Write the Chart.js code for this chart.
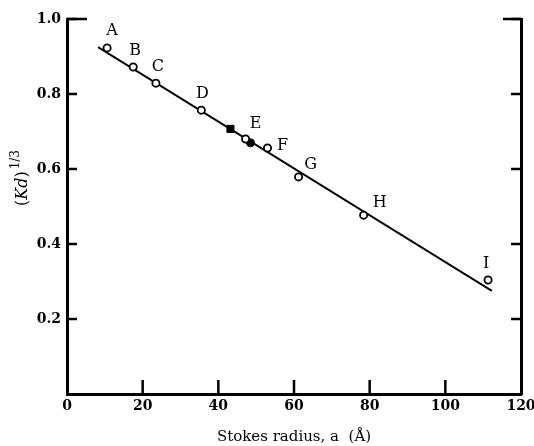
<!DOCTYPE html>
<html>
<head>
<meta charset="utf-8">
<script src="https://cdn.jsdelivr.net/npm/chart.js@4/dist/chart.umd.min.js"></script>
<style>
  html, body { margin: 0; padding: 0; background: #fff; }
  #wrap { width: 534px; height: 446px; position: relative; }
</style>
</head>
<body>
<div id="wrap"><canvas id="chart" width="534" height="446"></canvas></div>
<script>
// proteins, open circles
const labels = ['A', 'B', 'C', 'D', 'E', 'F', 'G', 'H', 'I'];
const stokesRadius = [10.6, 17.5, 23.5, 35.5, 47.2, 53.0, 61.2, 78.4, 111.3];
const kdCubeRoot = [0.923, 0.872, 0.829, 0.757, 0.68, 0.656, 0.579, 0.477, 0.304];

// filled markers
const filledSquareX = [43.2];
const filledSquareY = [0.707];
const filledCircleX = [48.5];
const filledCircleY = [0.67];

// fitted line endpoints
const fitX = [8.2, 112.3];
const fitY = [0.925, 0.275];

const xTicks = [0, 20, 40, 60, 80, 100, 120];
const yTicks = [0.2, 0.4, 0.6, 0.8, 1.0];

const FONT = '"DejaVu Serif", "Liberation Serif", serif';

const toPts = (xs, ys) => xs.map((x, i) => ({ x: x, y: ys[i] }));

// label offsets relative to each point (px)
const labelOffsets = {
  A: [5, -17], B: [2, -16], C: [2, -16], D: [1, -16], E: [10, -15],
  F: [15, -2], G: [12, -12], H: [16, -12], I: [-2, -16]
};

const decorations = {
  id: 'decorations',
  afterDatasetsDraw(chart) {
    const ctx = chart.ctx;
    const xs = chart.scales.x, ys = chart.scales.y;
    const a = chart.chartArea;
    ctx.save();
    ctx.strokeStyle = '#000';
    ctx.lineWidth = 2.5;
    // inward ticks on left and right
    yTicks.forEach(v => {
      const py = ys.getPixelForValue(v);
      ctx.beginPath(); ctx.moveTo(a.left, py); ctx.lineTo(a.left + 10, py); ctx.stroke();
      ctx.beginPath(); ctx.moveTo(a.right, py); ctx.lineTo(a.right - 10, py); ctx.stroke();
    });
    // inward ticks on bottom
    xTicks.slice(1, -1).forEach(v => {
      const px = xs.getPixelForValue(v);
      ctx.beginPath(); ctx.moveTo(px, a.bottom); ctx.lineTo(px, a.bottom - 14); ctx.stroke();
    });
    // corner stubs at top
    ctx.beginPath(); ctx.moveTo(a.left, a.top); ctx.lineTo(a.left + 20, a.top); ctx.stroke();
    ctx.beginPath(); ctx.moveTo(a.right - 18, a.top); ctx.lineTo(a.right, a.top); ctx.stroke();

    // point letters
    ctx.fillStyle = '#000';
    ctx.font = '16px ' + FONT;
    ctx.textAlign = 'center';
    ctx.textBaseline = 'middle';
    labels.forEach((l, i) => {
      const px = xs.getPixelForValue(stokesRadius[i]);
      const py = ys.getPixelForValue(kdCubeRoot[i]);
      const o = labelOffsets[l];
      ctx.fillText(l, px + o[0], py + o[1]);
    });

    // y-axis title: (Kd)^1/3, rotated
    ctx.translate(22, 178);
    ctx.rotate(-Math.PI / 2);
    ctx.textAlign = 'left';
    ctx.textBaseline = 'alphabetic';
    ctx.font = '16px ' + FONT;
    const w = ctx.measureText('(').width;
    ctx.font = 'italic 16px ' + FONT;
    const wk = ctx.measureText('Kd').width;
    ctx.font = '16px ' + FONT;
    const wp = ctx.measureText(')').width;
    ctx.font = '12px ' + FONT;
    const ws = ctx.measureText('1/3').width;
    let x0 = -(w + wk + wp + ws + 2) / 2;
    ctx.font = '16px ' + FONT;
    ctx.fillText('(', x0, 5); x0 += w;
    ctx.font = 'italic 16px ' + FONT;
    ctx.fillText('Kd', x0, 5); x0 += wk;
    ctx.font = '16px ' + FONT;
    ctx.fillText(')', x0, 5); x0 += wp + 2;
    ctx.font = '12px ' + FONT;
    ctx.fillText('1/3', x0, -3);
    ctx.restore();
  }
};

new Chart(document.getElementById('chart'), {
  type: 'scatter',
  data: {
    datasets: [
      {
        type: 'line',
        data: toPts(fitX, fitY),
        borderColor: '#000',
        borderWidth: 1.8,
        pointRadius: 0,
        fill: false,
        order: 3
      },
      {
        data: toPts(stokesRadius, kdCubeRoot),
        pointStyle: 'circle',
        pointRadius: 3.6,
        pointBackgroundColor: '#fff',
        pointBorderColor: '#000',
        pointBorderWidth: 1.8,
        order: 1
      },
      {
        data: toPts(filledSquareX, filledSquareY),
        pointStyle: 'rect',
        pointRadius: 5,
        pointBackgroundColor: '#000',
        pointBorderColor: '#000',
        order: 1
      },
      {
        data: toPts(filledCircleX, filledCircleY),
        pointStyle: 'circle',
        pointRadius: 4,
        pointBackgroundColor: '#000',
        pointBorderColor: '#000',
        order: 1
      }
    ]
  },
  options: {
    responsive: false,
    animation: false,
    layout: { padding: { left: 0, right: 13, top: 19, bottom: 0 } },
    plugins: { legend: { display: false }, tooltip: { enabled: false } },
    scales: {
      x: {
        type: 'linear',
        min: 0, max: 120,
        afterFit(s) { s.height = 52; s.paddingLeft = 0; s.paddingRight = 0; },
        afterBuildTicks(s) { s.ticks = xTicks.map(v => ({ value: v })); },
        border: { color: '#000', width: 3 },
        grid: { display: false, drawTicks: false },
        ticks: {
          color: '#000',
          padding: 4,
          maxRotation: 0,
          font: { family: FONT, size: 14, weight: 'bold' }
        },
        title: {
          display: true,
          text: 'Stokes radius, a  (Å)',
          color: '#000',
          padding: { top: 4, bottom: 0 },
          font: { family: FONT, size: 15 }
        }
      },
      y: {
        type: 'linear',
        min: 0, max: 1.0,
        afterFit(s) { s.width = 67; s.paddingTop = 0; s.paddingBottom = 0; },
        afterBuildTicks(s) { s.ticks = yTicks.map(v => ({ value: v })); },
        border: { color: '#000', width: 3 },
        grid: { display: false, drawTicks: false },
        ticks: {
          color: '#000',
          padding: 6,
          callback: v => v.toFixed(1),
          font: { family: FONT, size: 14, weight: 'bold' }
        }
      },
      yRight: {
        type: 'linear',
        position: 'right',
        min: 0, max: 1.0,
        afterFit(s) { s.width = 0; },
        border: { color: '#000', width: 3 },
        grid: { display: false, drawTicks: false },
        ticks: { display: false }
      }
    }
  },
  plugins: [decorations]
});
</script>
</body>
</html>
